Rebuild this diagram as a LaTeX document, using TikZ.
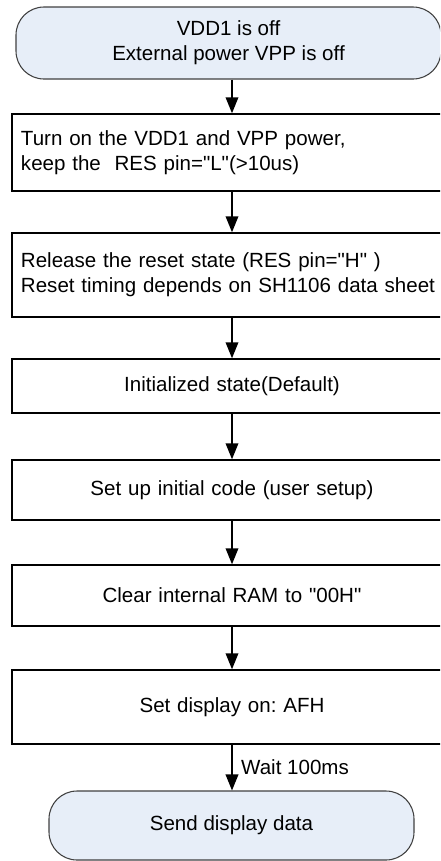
\documentclass[tikz,border=0pt]{standalone}
\usepackage{fontspec}
\setmainfont{Liberation Sans}[Ligatures=TeXOff]
\usetikzlibrary{arrows.meta}
\definecolor{termblue}{RGB}{231,238,248}
\newcommand{\flowfont}{\fontsize{15.4pt}{18.8pt}\selectfont\frenchspacing}
\tikzset{
  procbox/.style={draw, line width=1.1pt, inner xsep=6.75pt, text width=316.5pt, font=\flowfont},
  termbox/.style={draw=black!75, line width=0.8pt, fill=termblue, rounded corners=21pt, align=center, font=\flowfont},
  flowarrow/.style={line width=1.1pt, -{Triangle[length=12pt,width=9.5pt]}},
}
\begin{document}
\begin{tikzpicture}[x=0.75pt,y=0.75pt,yscale=-1,xscale=1]
        \useasboundingbox (0,0) rectangle (440,861);
        \clip (0,0) rectangle (440,861);
        % Terminator: start
        \node [termbox, minimum width=318.75pt, minimum height=54pt] (start) at (228.5,43) {VDD1 is off\\External power VPP is off};
        % Process boxes
        \node [procbox, align=left, minimum height=57.75pt] (poweron) at (232,152.5) {Turn on the VDD1 and VPP power,\\keep the \ RES pin="L"(>10us)};
        \node [procbox, align=left, minimum height=63pt] (release) at (232,275) {Release the reset state (RES pin="H"\ )\\Reset timing depends on SH1106 data sheet};
        \node [procbox, align=center, minimum height=40.5pt] (initstate) at (232,386) {Initialized state(Default)};
        \node [procbox, align=center, minimum height=45pt] (initcode) at (232,490) {Set up initial code (user setup)};
        \node [procbox, align=center, minimum height=45.75pt] (clearram) at (232,595.5) {Clear internal RAM to "00H"};
        \node [procbox, align=center, minimum height=55.5pt] (dispon) at (232,707) {Set display on: AFH};
        % Terminator: end
        \node [termbox, minimum width=273.75pt, minimum height=51.75pt] (senddata) at (231.5,825.5) {Send display data};
        % Arrows
        \draw [flowarrow] (start.south -| poweron.north) -- (poweron.north);
        \draw [flowarrow] (poweron) -- (release);
        \draw [flowarrow] (release) -- (initstate);
        \draw [flowarrow] (initstate) -- (initcode);
        \draw [flowarrow] (initcode) -- (clearram);
        \draw [flowarrow] (clearram) -- (dispon);
        \draw [flowarrow] (dispon.south) -- node [right=3pt, font=\flowfont] {Wait 100ms} (dispon.south |- senddata.north);
\end{tikzpicture}
\end{document}
